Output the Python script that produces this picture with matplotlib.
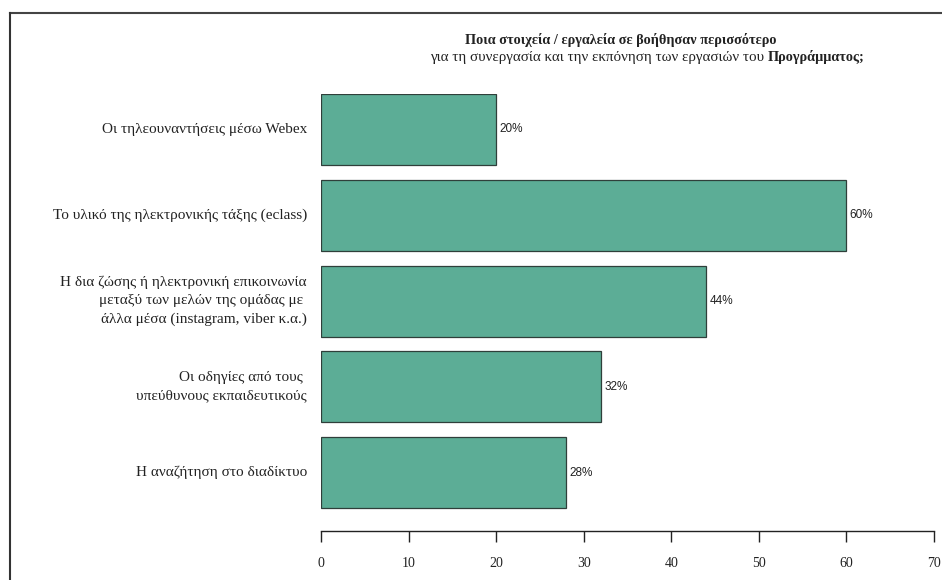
import matplotlib
matplotlib.use("Agg")
import matplotlib.pyplot as plt
from matplotlib.lines import Line2D

labels = [
    "Οι τηλεουναντήσεις μέσω Webex",
    "Το υλικό της ηλεκτρονικής τάξης (eclass)",
    "Η δια ζώσης ή ηλεκτρονική επικοινωνία\nμεταξύ των μελών της ομάδας με \nάλλα μέσα (instagram, viber κ.α.)",
    "Οι οδηγίες από τους \nυπεύθυνους εκπαιδευτικούς",
    "Η αναζήτηση στο διαδίκτυο",
]
values = [20, 60, 44, 32, 28]
xticks = [0, 10, 20, 30, 40, 50, 60, 70]
title1 = "Ποια στοιχεία / εργαλεία σε βοήθησαν περισσότερο"
title2a = "για τη συνεργασία και την εκπόνηση των εργασιών του "
title2b = "Προγράμματος;"

W, H = 942, 580
fig = plt.figure(figsize=(W / 100, H / 100), dpi=100)

# axes placed in pixel terms
left, right, top, bottom = 321, 934, 94, 531
ax = fig.add_axes([left / W, 1 - bottom / H, (right - left) / W, (bottom - top) / H])

step = 85.75
ypos = list(range(len(values)))
ax.barh(ypos, values, height=71 / step, color="#5cad96", edgecolor="#2f3f3a", linewidth=0.9)
ax.set_ylim((bottom - 129.5) / step, -(129.5 - top) / step)
ax.set_xlim(0, 70)

for y, v, lab in zip(ypos, values, labels):
    ax.text(v + 0.35, y, f"{v}%", va="center", ha="left", fontsize=8.5,
            family="Liberation Sans", color="#222222")
    ax.text(-1.6, y, lab, va="center", ha="right", multialignment="right",
            fontsize=11, family="Liberation Serif", color="#222222",
            linespacing=1.55)

for s in ["left", "right", "top"]:
    ax.spines[s].set_visible(False)
ax.spines["bottom"].set_bounds(0, 70)
ax.spines["bottom"].set_linewidth(1.0)
ax.spines["bottom"].set_color("#222222")
ax.set_yticks([])
ax.set_xticks(xticks)
ax.tick_params(axis="x", direction="out", length=8, width=1.0, colors="#222222",
               pad=11, labelsize=10)
for t in ax.get_xticklabels():
    t.set_family("Liberation Serif")

fig.text(621 / W, 1 - 40 / H, title1,
         ha="center", va="center", fontsize=10.3, fontweight="bold",
         family="Liberation Serif", color="#222222")
t2 = fig.text(430 / W, 1 - 57 / H, title2a,
              ha="left", va="center", fontsize=10.8,
              family="Liberation Serif", color="#222222")
fig.canvas.draw()
bb = t2.get_window_extent()
fig.text(bb.x1 / W, 1 - 57 / H, title2b,
         ha="left", va="center", fontsize=10.3, fontweight="bold",
         family="Liberation Serif", color="#222222")

# outer frame (top and left edges)
fig.add_artist(Line2D([9.5 / W, 1], [1 - 13 / H, 1 - 13 / H], color="#444444", lw=1.5,
                      transform=fig.transFigure))
fig.add_artist(Line2D([9.5 / W, 9.5 / W], [0, 1 - 13 / H], color="#333333", lw=1.5,
                      transform=fig.transFigure))

fig.savefig("out.png", dpi=100, facecolor="white")
